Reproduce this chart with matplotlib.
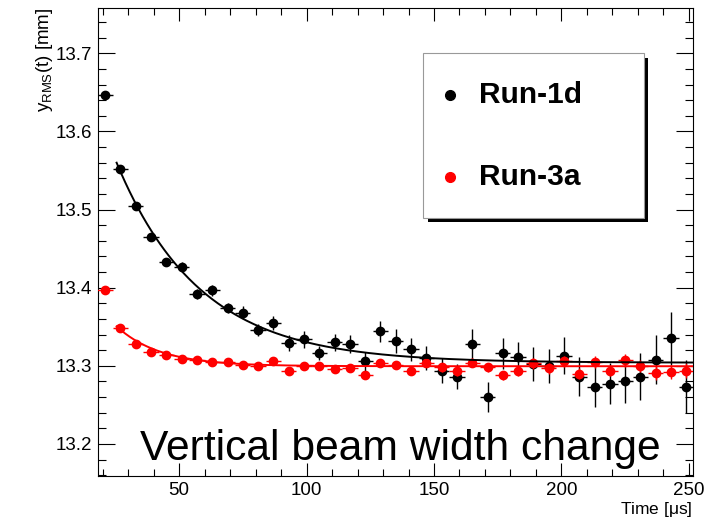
import numpy as np
import matplotlib
matplotlib.use("Agg")
import matplotlib.pyplot as plt
from matplotlib.patches import Rectangle
from matplotlib.lines import Line2D

# Fuentes parecidas a Helvetica (estilo ROOT)
plt.rcParams['font.family'] = ['Liberation Sans', 'DejaVu Sans']
plt.rcParams['mathtext.fontset'] = 'custom'
plt.rcParams['mathtext.rm'] = 'Liberation Sans'
plt.rcParams['mathtext.it'] = 'Liberation Sans'

# Datos
tiempo = [21, 27, 33, 39, 45, 51, 57, 63, 69, 75, 81, 87, 93, 99,
          105, 111, 117, 123, 129, 135, 141, 147, 153, 159, 165, 171,
          177, 183, 189, 195, 201, 207, 213, 219, 225, 231, 237, 243, 249]

run1d_y = [13.647, 13.552, 13.505, 13.465, 13.433, 13.427, 13.392, 13.397,
           13.374, 13.368, 13.346, 13.355, 13.329, 13.334, 13.316, 13.330,
           13.328, 13.306, 13.344, 13.332, 13.321, 13.310, 13.294, 13.286,
           13.328, 13.260, 13.316, 13.311, 13.302, 13.300, 13.313, 13.286,
           13.273, 13.277, 13.280, 13.286, 13.308, 13.335, 13.273]
run1d_err = [0.003, 0.004, 0.004, 0.005, 0.005, 0.006, 0.006, 0.007, 0.007,
             0.008, 0.008, 0.009, 0.010, 0.011, 0.009, 0.011, 0.012, 0.012,
             0.014, 0.015, 0.015, 0.015, 0.016, 0.016, 0.019, 0.019, 0.020,
             0.020, 0.022, 0.022, 0.024, 0.025, 0.026, 0.026, 0.028, 0.030,
             0.031, 0.034, 0.034]

run3a_y = [13.397, 13.348, 13.328, 13.318, 13.314, 13.309, 13.308, 13.305,
           13.305, 13.301, 13.300, 13.306, 13.294, 13.300, 13.300, 13.296,
           13.297, 13.288, 13.303, 13.301, 13.293, 13.303, 13.298, 13.293,
           13.304, 13.298, 13.288, 13.293, 13.303, 13.297, 13.306, 13.290,
           13.305, 13.294, 13.307, 13.300, 13.291, 13.292, 13.294]
run3a_err = [0.001, 0.001, 0.0015, 0.0015, 0.002, 0.002, 0.002, 0.0025, 0.0025,
             0.003, 0.003, 0.003, 0.0035, 0.0035, 0.004, 0.004, 0.004, 0.0045,
             0.0045, 0.005, 0.005, 0.005, 0.0055, 0.0055, 0.006, 0.006, 0.006,
             0.0065, 0.0065, 0.007, 0.007, 0.007, 0.0075, 0.0075, 0.008, 0.008,
             0.0085, 0.0085, 0.009]

# Parametros de los ajustes exponenciales: C + A*exp(-(t - t0)/tau)
ajuste_1d = {"C": 13.304, "A": 0.256, "tau": 32.7}
ajuste_3a = {"C": 13.2995, "A": 0.051, "tau": 17.0}
t0 = 25.5

W, H = 712, 521


def fx(x):
    return x / W


def fy(y):
    return 1 - y / H


fig = plt.figure(figsize=(W / 100, H / 100), dpi=100)
ax = fig.add_axes([fx(98), fy(476), fx(693) - fx(98), fy(8) - fy(476)])

# Puntos con barras de error
ax.errorbar(tiempo, run1d_y, yerr=run1d_err, xerr=3, fmt='o', color='black',
            ms=6, elinewidth=1, capsize=0, zorder=3)
ax.errorbar(tiempo, run3a_y, yerr=run3a_err, xerr=3, fmt='o', color='red',
            ms=6, elinewidth=1, capsize=0, zorder=4)

# Curvas de ajuste
t_fit = np.linspace(t0, 251.6, 400)
for p, c in [(ajuste_1d, 'black'), (ajuste_3a, 'red')]:
    ax.plot(t_fit, p["C"] + p["A"] * np.exp(-(t_fit - t0) / p["tau"]),
            color=c, lw=1.4, zorder=5)

ax.set_xlim(18.2, 251.6)
ax.set_ylim(13.159, 13.758)
ax.set_xticks([50, 100, 150, 200, 250])
ax.set_xticks(np.arange(20, 251, 10), minor=True)
ax.set_yticks([13.2, 13.3, 13.4, 13.5, 13.6, 13.7])
ax.set_yticks(np.arange(13.16, 13.76, 0.02), minor=True)
ax.set_yticklabels(["13.2", "13.3", "13.4", "13.5", "13.6", "13.7"])

ax.tick_params(which='both', direction='in', top=True, right=True,
               labelsize=13.5, width=0.8)
ax.tick_params(axis='y', which='major', length=12, pad=4)
ax.tick_params(axis='y', which='minor', length=6)
ax.tick_params(axis='x', which='major', length=9.5, pad=4)
ax.tick_params(axis='x', which='minor', length=5)
for s in ax.spines.values():
    s.set_linewidth(0.8)

# Titulos de los ejes (arriba a la izquierda y abajo a la derecha, como ROOT)
ax.set_xlabel(r"Time [$\mathregular{\mu}$s]", loc='right', fontsize=12.5)
ax.xaxis.set_label_coords(1.0, -0.052)
ax.set_ylabel(r"$\mathregular{y_{RMS}}$(t) [mm]", loc='top', fontsize=13.5)
ax.yaxis.set_label_coords(-0.072, 1.0)

# Texto grande
fig.text(fx(400), fy(460), "Vertical beam width change", fontsize=30.7,
         ha='center', va='baseline')

# Leyenda estilo ROOT con sombra
fig.add_artist(Rectangle((fx(428), fy(222)), fx(648) - fx(428), fy(58) - fy(222),
                         transform=fig.transFigure, facecolor='black',
                         edgecolor='none', zorder=10))
fig.add_artist(Rectangle((fx(423), fy(218)), fx(644) - fx(423), fy(53) - fy(218),
                         transform=fig.transFigure, facecolor='white',
                         edgecolor='#999999', lw=0.8, zorder=11))
for yy, c, lab in [(95, 'black', 'Run-1d'), (177, 'red', 'Run-3a')]:
    fig.add_artist(Line2D([fx(450)], [fy(yy)], marker='o', color=c, ms=7,
                          transform=fig.transFigure, zorder=12))
    fig.text(fx(479), fy(yy), lab, fontsize=21.5, fontweight='bold',
             ha='left', va='center', zorder=12)

fig.savefig("out.png", dpi=100)
